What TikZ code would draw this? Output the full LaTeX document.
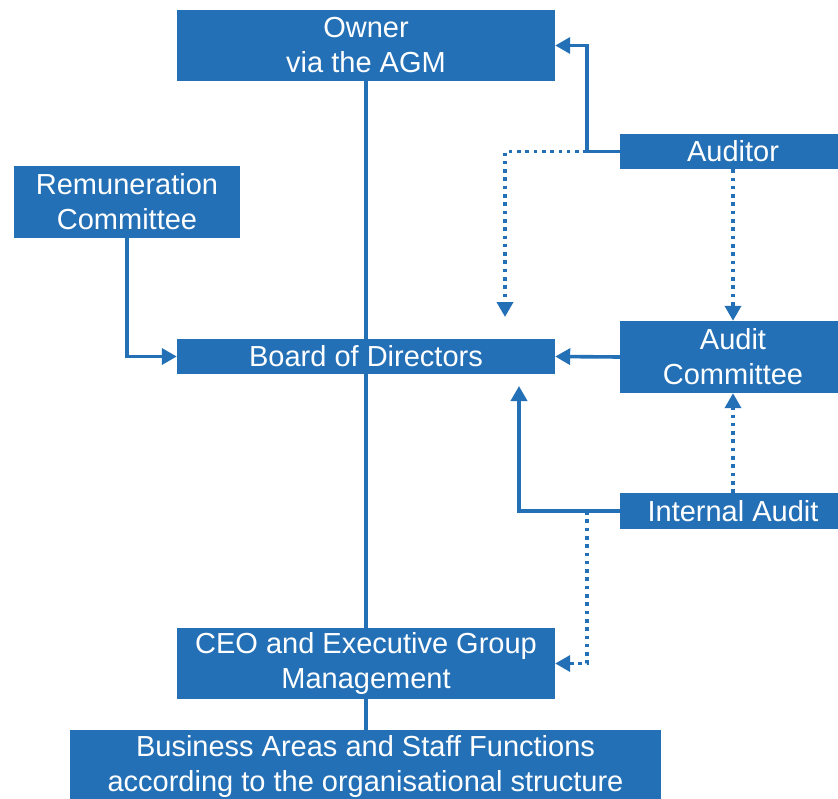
\documentclass[tikz,border=0pt]{standalone}
\usepackage{fontspec}
\setmainfont{Liberation Sans}
\usetikzlibrary{arrows.meta}
\definecolor{cblue}{HTML}{2470B6}
\begin{document}
\begin{tikzpicture}[x=1pt,y=-1pt,
  box/.style={fill=cblue,draw=none,text=white,inner sep=0pt,align=center,
    font=\fontsize{29}{35}\selectfont},
  arr/.style={draw=cblue,line width=3.6pt,-{Triangle[length=15pt,width=16pt]}},
  dotarr/.style={draw=cblue,line width=3.6pt,dash pattern=on 3.6pt off 4.7pt,-{Triangle[length=15pt,width=16pt]}},
  plain/.style={draw=cblue,line width=3.6pt}]
\useasboundingbox (0,0) rectangle (838,798);
\node[box,minimum width=378pt,minimum height=71pt] (owner) at (366,45.5) {Owner\\via the AGM};
\node[box,minimum width=226pt,minimum height=72pt] (rem) at (127,202) {Remuneration\\Committee};
\node[box,minimum width=226pt,minimum height=35pt] (auditor) at (733,151.5) {Auditor};
\node[box,minimum width=226pt,minimum height=72pt] (ac) at (733,357) {Audit\\Committee};
\node[box,minimum width=226pt,minimum height=36pt] (ia) at (733,511) {Internal Audit};
\node[box,minimum width=591pt,minimum height=72pt] (biz) at (365.5,766) {Business Areas and Staff Functions\\according to the organisational structure};
\draw[plain] (owner.south) -- (owner.south |- biz.north);
\node[box,minimum width=378pt,minimum height=35pt] (board) at (366,356.5) {Board of Directors};
\node[box,minimum width=378pt,minimum height=71pt] (ceo) at (366,663.5) {CEO and Executive Group\\Management};
\coordinate (aj) at (587,151.5);
\coordinate (dtip) at (505,317);
\coordinate (itip) at (519,386);
\coordinate (ij) at (587,511);
\draw[dotarr] (aj) -| (dtip);
\draw[dotarr] (ij) |- (ceo.east);
\draw[arr] (auditor.west) -- (aj) |- (owner.east);
\draw[dotarr] (auditor.south) -- (ac.north);
\draw[arr] (ac.west) -- (board.east);
\draw[arr] (rem.south) |- (board.west);
\draw[arr] (ia.west) -| (itip);
\draw[dotarr] (ia.north) -- (ac.south);
\end{tikzpicture}
\end{document}
